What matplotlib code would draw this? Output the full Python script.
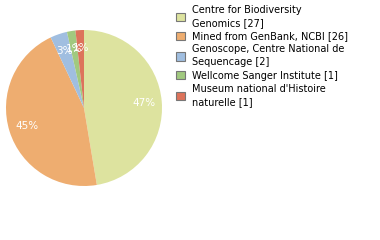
import matplotlib
matplotlib.use("Agg")
import matplotlib.pyplot as plt
from matplotlib.patches import Patch

labels = ["Centre for Biodiversity\nGenomics [27]", "Mined from GenBank, NCBI [26]",
          "Genoscope, Centre National de\nSequencage [2]", "Wellcome Sanger Institute [1]",
          "Museum national d'Histoire\nnaturelle [1]"]
values = [27, 26, 2, 1, 1]
colors = ["#dde39f", "#eead70", "#a0bee0", "#a1c97f", "#dd735b"]

fig = plt.figure(figsize=(3.8, 2.4), dpi=100)
ax = fig.add_axes([6/380, 1-186/240, 156/380, 156/240])
wedges, texts, autotexts = ax.pie(values, colors=colors, startangle=90, counterclock=False,
                                  autopct=lambda p: "%d%%" % int(p), pctdistance=0.77,
                                  textprops=dict(color="white", fontsize=7.5))
ax.set_xlim(-1, 1)
ax.set_ylim(-1, 1)
ax.set_aspect("equal")

handles = [Patch(facecolor=c, edgecolor="#777777", linewidth=0.8) for c in colors]
leg = fig.legend(handles, labels, loc="upper left", bbox_to_anchor=(171/380, 1.0),
                 frameon=False, fontsize=7, handlelength=0.9, handleheight=0.9,
                 handletextpad=0.8, labelspacing=0.35, borderaxespad=0.1)
for t in leg.get_texts():
    t.set_linespacing(1.35)
fig.savefig("out.png", dpi=100)
